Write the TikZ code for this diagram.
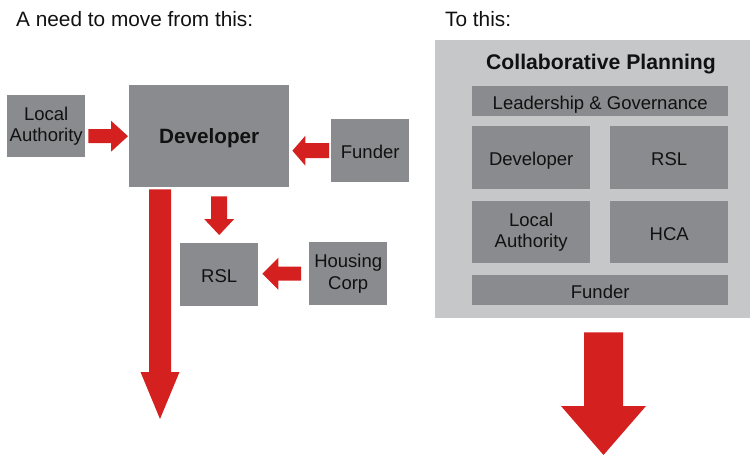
\documentclass[tikz,border=0pt]{standalone}
\usepackage{fontspec}
\setmainfont{Liberation Sans}
\usetikzlibrary{calc}
\definecolor{boxgray}{HTML}{898B8E}
\definecolor{panelgray}{HTML}{C6C7C9}
\definecolor{arrred}{HTML}{D52020}
\definecolor{txt}{HTML}{111111}
\tikzset{
  box/.style={fill=boxgray, draw=none, inner sep=0pt, anchor=north west, align=center,
    font=\fontsize{18.5}{21.5}\selectfont, text=txt,
    execute at begin node={\rule{0pt}{19.6pt}},
    execute at end node={\rule[-4pt]{0pt}{0pt}}},
  heading/.style={anchor=base west, font=\fontsize{20.8}{24}\selectfont, text=txt, inner sep=0pt},
  barrow/.style n args={3}{to path={
    ($(\tikztostart)!#1!90:(\tikztotarget)$) --
    ($(\tikztotarget)!#3!(\tikztostart)!#1!-90:(\tikztostart)$) --
    ($(\tikztotarget)!#3!(\tikztostart)!#2!-90:(\tikztostart)$) --
    (\tikztotarget) --
    ($(\tikztotarget)!#3!(\tikztostart)!#2!90:(\tikztostart)$) --
    ($(\tikztotarget)!#3!(\tikztostart)!#1!90:(\tikztostart)$) --
    ($(\tikztostart)!#1!-90:(\tikztotarget)$) -- cycle}},
  redarrow/.style={fill=arrred, draw=none}
}
\begin{document}
\begin{tikzpicture}[x=1pt, y=-1pt]
\useasboundingbox (0,0) rectangle (750,455);

% ---------- left part ----------
\node[heading] (t1) at (16,26.7) {A need to move from this:};
\node[box, minimum width=78pt, minimum height=62pt] (la) at (7,95) {Local\\Authority};
\node[box, minimum width=160pt, minimum height=102pt,
      font=\bfseries\fontsize{20.7}{24}\selectfont] (dev) at (129,85) {Developer};
\node[box, minimum width=78pt, minimum height=63pt] (fun) at (331,119) {Funder};
\node[box, minimum width=78pt, minimum height=63pt] (rsl) at (180,243) {RSL};
\node[box, minimum width=78pt, minimum height=63pt] (hc) at (309,242) {Housing\\Corp};

\coordinate (a1s) at ($(la.east |- dev.west)+(3,0)$);
\coordinate (a1e) at ($(dev.west)+(-1,0)$);
\coordinate (a2s) at ($(fun.west)+(-2,0)$);
\coordinate (a2e) at ($(fun.west -| dev.east)+(3,0)$);
\coordinate (a3s) at ($(dev.south -| rsl.north)+(0,9)$);
\coordinate (a3e) at ($(rsl.north)+(0,-8)$);
\coordinate (a4s) at ($(hc.west)+(-8,0)$);
\coordinate (a4e) at ($(hc.west -| rsl.east)+(4,0)$);
\coordinate (a5s) at ($(dev.south west)+(31,2)$);
\coordinate (a5e) at (160,419);

\fill[redarrow] (a1s) to[barrow={7pt}{15.5pt}{17pt}] (a1e);
\fill[redarrow] (a2s) to[barrow={7.5pt}{15pt}{13pt}] (a2e);
\fill[redarrow] (a3s) to[barrow={8pt}{15pt}{16pt}] (a3e);
\fill[redarrow] (a4s) to[barrow={7pt}{16pt}{16pt}] (a4e);
\fill[redarrow] (a5s) to[barrow={11pt}{19.5pt}{47pt}] (a5e);

% ---------- right part ----------
\node[heading] (t2) at (445,26.7) {To this:};
\node[fill=panelgray, anchor=north west, inner sep=0pt,
      minimum width=315pt, minimum height=278pt] (panel) at (435,40) {};
\node[anchor=base, inner sep=0pt, text=txt,
      font=\bfseries\fontsize{21.2}{24}\selectfont] (ttl) at (601,69.3) {Collaborative Planning};
\node[box, minimum width=256pt, minimum height=30pt] (lead) at (472,86) {Leadership \& Governance};
\node[box, minimum width=118pt, minimum height=63pt] (rdev) at (472,126) {Developer};
\node[box, minimum width=118pt, minimum height=63pt] (rrsl) at (610,126) {RSL};
\node[box, minimum width=118pt, minimum height=62pt] (rla) at (472,201) {Local\\Authority};
\node[box, minimum width=118pt, minimum height=62pt] (hca) at (610,201) {HCA};
\node[box, minimum width=256pt, minimum height=30pt] (rfun) at (472,275) {Funder};

\coordinate (a6s) at ($(panel.south west)+(168.5,14)$);
\coordinate (a6e) at (603.5,455);
\fill[redarrow] (a6s) to[barrow={19.5pt}{42.5pt}{49pt}] (a6e);
\end{tikzpicture}
\end{document}
